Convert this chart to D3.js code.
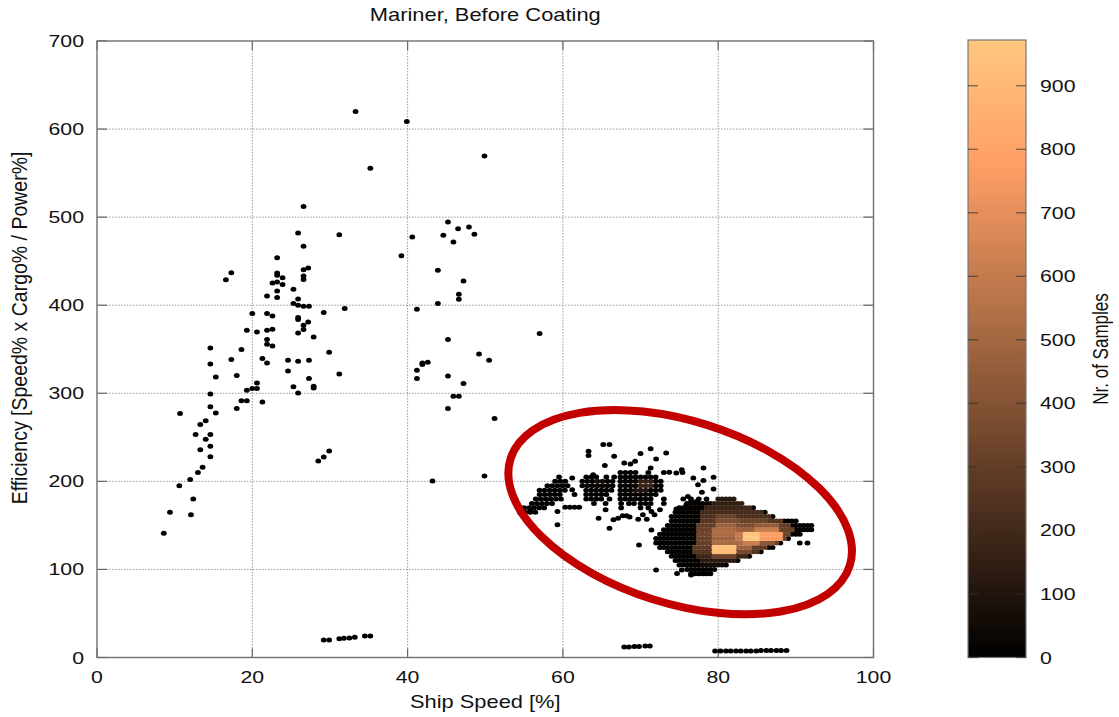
<!DOCTYPE html>
<html>
<head>
<meta charset="utf-8">
<script src="https://cdn.jsdelivr.net/npm/d3@7"></script>
<style>
  body { margin: 0; background: #fff; }
  text { font-family: "Liberation Sans", Arial, sans-serif; fill: #111; }
</style>
</head>
<body>
<svg id="chart" width="1119" height="717"></svg>
<script>
// ---- axis ticks ----
const xTicks = [0, 20, 40, 60, 80, 100];
const yTicks = [0, 100, 200, 300, 400, 500, 600, 700];
const colorTicks = [0, 100, 200, 300, 400, 500, 600, 700, 800, 900];
const maxSamples = 972;

const titleText = "Mariner, Before Coating";
const xLabel = "Ship Speed [%]";
const yLabel = "Efficiency [Speed% x Cargo% / Power%]";
const colorLabel = "Nr. of Samples";

// ---- isolated samples: [speed %, efficiency] (one sample each) ----
const singles = [
  [33.3, 620], [35.2, 555.4], [39.9, 608.7], [49.9, 569.3],
  [26.6, 512.2], [25.9, 482], [31.2, 480.1], [26.6, 466.9], [23.2, 454],
  [26.6, 440.4], [27.2, 442.2], [23.2, 436.6], [23.2, 434], [23.9, 431.3], [16.6, 429], [17.3, 437],
  [26.6, 433.2], [26.6, 429.1], [22.6, 425.3], [23.9, 423.4], [23.2, 426.4], [23.2, 416.2], [25.3, 418.1],
  [21.9, 410.5], [23.2, 408.7], [25.9, 407.1], [25.3, 401.9], [25.9, 400], [26.6, 398.8], [27.3, 398.8],
  [29.2, 391.6], [31.9, 396.2], [20.0, 390.5], [21.9, 390.5], [22.6, 387.8], [25.9, 386], [25.9, 383.7],
  [26.6, 377.3], [26.6, 372.3], [27.2, 381], [25.9, 368.5], [27.9, 364], [19.3, 371.6], [20.6, 369.6],
  [21.9, 371.6], [22.6, 372.7], [21.9, 361], [21.9, 355.7], [22.6, 353.7], [18.6, 349.7], [14.6, 351.5],
  [29.9, 346.6], [17.3, 338.3], [21.3, 339.5], [21.9, 334.5], [24.6, 337.5], [25.9, 336.4], [27.3, 337.5],
  [14.6, 333.3], [24.6, 325.4], [31.2, 322], [15.3, 318.6], [18.0, 320.2], [27.3, 316.8], [25.3, 307.3],
  [27.9, 308], [27.9, 306.1], [25.9, 300.4], [20.6, 311.8], [20.6, 305.4], [20.0, 305.4], [19.3, 303.5],
  [18.6, 291.4], [19.3, 291.4], [21.3, 290.2], [18.0, 282.7], [14.6, 299.3], [14.6, 284.6], [15.3, 277.7],
  [10.7, 277], [14.0, 268.7], [13.3, 264.6], [12.7, 253.2], [14.6, 253.2], [14.0, 247.9],
  [14.6, 240], [13.3, 236], [14.6, 228], [13.6, 216], [13.0, 210], [12.0, 202], [10.6, 195],
  [12.4, 180], [12.1, 162], [9.4, 165], [8.6, 141],
  [28.5, 223], [29.2, 227.6], [29.9, 234.4],
  [45.2, 494.4], [46.5, 486.9], [47.9, 488.8], [44.6, 479.4], [48.6, 480.5], [40.6, 477.4], [45.9, 471.7],
  [39.2, 456.3], [43.9, 439.6], [47.2, 427.5], [46.6, 412.4], [46.6, 406.7], [43.9, 401.9], [41.2, 395.4],
  [57.0, 367.8], [45.2, 361], [49.2, 344.7], [50.5, 337.5], [41.2, 326.2], [41.9, 334.5], [41.9, 332.6],
  [42.6, 335.3], [41.2, 316.8], [45.2, 319.7], [47.2, 311.1], [45.9, 296.7], [46.6, 296.7], [45.2, 282.7],
  [51.2, 271.4], [43.2, 200.3], [49.9, 206],
  // near-zero efficiency strings
  [29.2, 19.9], [29.9, 19.9], [31.2, 21.3], [31.8, 21.8], [32.5, 22.1], [33.2, 22.9], [34.5, 24.4], [35.2, 24.4],
  [67.9, 12], [68.5, 12], [69.2, 12.5], [69.8, 12.5], [70.6, 13], [71.2, 13],
  [79.6, 7.5], [80.3, 7.5], [81.0, 7.5], [81.6, 7.5], [82.3, 7.5], [82.9, 7.5], [83.6, 7.5], [84.2, 7.5],
  [84.9, 7.5], [85.5, 8], [86.2, 8], [86.8, 8], [87.5, 8], [88.1, 8], [88.8, 8],
  // scattered around the operating cluster
  [65.2, 241.8], [66.0, 241.8], [63.3, 234.2], [63.3, 229.3], [66.6, 228.5], [65.4, 217.9], [70.0, 231.5],
  [71.3, 236.9], [72.0, 225.5], [73.3, 232.3], [67.9, 220.9], [68.7, 219.8], [69.3, 222.8], [71.3, 215.2],
  [73.0, 210], [73.7, 210.3], [74.6, 209.5], [75.4, 210], [75.3, 213.3], [78.1, 215.2], [76.8, 203.8],
  [78.1, 201.1], [79.4, 204.6], [77.4, 196.2], [79.4, 191.3], [77.9, 187.5],
  [54.5, 164.7], [55.8, 167.7], [59.3, 165.8], [59.3, 150.6], [60.3, 170.7], [60.9, 170.7], [61.5, 170.7],
  [62.1, 170.7], [61.2, 203.8], [61.2, 190.5], [63.9, 207.6],
  [64.6, 158.2], [65.5, 167.7], [66.0, 146.8], [66.5, 156.3], [67.1, 158.2], [67.7, 160.9], [68.2, 160.9],
  [68.6, 159.4], [69.7, 157.1], [70.3, 162.0], [70.8, 157.1], [71.4, 165.8], [71.8, 162.0], [72.5, 167.7],
  [71.4, 144.9], [69.8, 127.8], [72.0, 99.3],
  [74.6, 168.5], [75.9, 173.4], [76.5, 177.2], [77.2, 177.2], [76.1, 182.9],
  [74.7, 95.5], [75.3, 99.3], [76.5, 93.6], [78.1, 95.5]
];

// ---- binned samples, upper part of the cluster (0.65 % speed bins) ----
// [efficiency, speed from, speed to, samples]
const upperBin = 0.65;
const upperRuns = [
  [210, 67.4, 69.4, 3], [210, 71, 71, 2],
  [205, 59.5, 59.5, 2], [205, 63, 64.3, 3], [205, 65.6, 65.6, 2], [205, 66.6, 66.6, 2], [205, 67.4, 72, 5],
  [200, 59, 60.3, 5], [200, 62.5, 66.4, 8], [200, 67.4, 72.6, 10], [200, 64.45, 65.1, 60], [200, 70, 71.3, 150],
  [195, 58, 60.6, 6], [195, 62.5, 66.4, 10], [195, 67.4, 72.6, 12], [195, 70, 71.3, 170],
  [190, 57, 60.3, 5], [190, 63, 66.3, 8], [190, 67.4, 72.6, 10], [190, 69.35, 70.65, 100],
  [185, 57, 59.6, 4], [185, 61.5, 61.5, 2], [185, 63, 65.6, 5], [185, 67.4, 72, 8],
  [180, 56.5, 59.8, 4], [180, 63, 65, 4], [180, 66, 66, 2], [180, 67.4, 71.3, 6], [180, 73, 73, 2],
  [175, 56, 58.6, 3], [175, 64, 64, 2], [175, 65.5, 65.5, 2], [175, 67.5, 67.5, 2], [175, 68.5, 69.2, 3],
  [175, 70, 71.3, 4], [175, 73, 73, 2],
  [170, 55, 57.6, 3], [170, 67.5, 67.5, 2], [170, 70, 70, 2], [170, 71, 71, 2],
  [165, 54.5, 56.5, 2]
];

// ---- binned samples, main operating blob (0.5 % speed bins) ----
const blobBin = 0.5;
const blobRuns = [
  [180, 75.5, 75.5, 3], [180, 76.5, 76.5, 3], [180, 77.5, 77.5, 3], [180, 78.5, 78.5, 3], [180, 80, 82, 120],
  [175, 76, 83, 10], [170, 75, 84.5, 10], [165, 74.5, 86, 10], [160, 74, 87, 10], [155, 74, 90, 10],
  [150, 73.5, 92, 10], [145, 73, 92, 10], [140, 72.5, 90.5, 10], [135, 72, 89, 10],
  [130, 72, 88, 10], [130, 90.5, 90.5, 2], [130, 91.5, 91.5, 2],
  [125, 72.5, 87, 10], [120, 73.5, 85.5, 10], [115, 74, 84, 10], [110, 74.5, 82.5, 10],
  [105, 75, 81, 10], [100, 76, 79.5, 8], [95, 76.5, 79, 4]
];

// ---- sample counts inside the blob (override the base counts above) ----
const heatRuns = [
  [175, 79.5, 83, 150],
  [170, 78.5, 84, 190],
  [165, 78, 85.5, 220],
  [160, 78, 86.5, 240], [160, 80, 82, 320],
  [155, 78, 88, 270], [155, 80, 82.5, 380], [155, 83, 86, 330],
  [150, 77.5, 89, 300], [150, 80, 82, 480], [150, 82.5, 84.5, 380], [150, 85, 87.5, 450],
  [145, 77.5, 89.5, 320], [145, 79.5, 82, 520], [145, 82.5, 84.5, 470], [145, 85, 87.5, 600],
  [140, 77.5, 89, 340], [140, 79.5, 82, 520], [140, 82.5, 83, 600], [140, 83.5, 85, 950], [140, 85.5, 88, 770],
  [135, 77.5, 88.5, 320], [135, 79.5, 82, 480], [135, 82.5, 83, 580], [135, 83.5, 85, 970], [135, 85.5, 88, 760],
  [130, 77.5, 87.5, 310], [130, 79.5, 82, 520], [130, 82.5, 83, 520], [130, 83.5, 85, 620], [130, 85.5, 87, 420],
  [125, 77, 86, 290], [125, 79.5, 82, 940], [125, 82.5, 84, 480],
  [120, 77, 85, 260], [120, 79.5, 82, 920], [120, 82.5, 84, 360],
  [115, 77.5, 83.5, 190], [115, 79.5, 82, 320],
  [110, 78, 82, 130],
  [105, 78, 80.5, 60]
];

// highlighted operating region (speed %, efficiency, half-axes in axis units, tilt in degrees)
const highlight = { speed: 75.1, efficiency: 165, halfSpeed: 22.9, halfEff: 103.6, tilt: 17.5 };

// ---------------------------------------------------------------
const svg = d3.select("#chart");
const plot = { left: 97, right: 873.5, top: 41, bottom: 657.5 };
const bar = { left: 968, right: 1026, top: 40, bottom: 657.5 };
const stretch = 1.25;   // glyphs are rendered wide

const x = d3.scaleLinear().domain([0, 100]).range([plot.left, plot.right]);
const y = d3.scaleLinear().domain([0, 700]).range([plot.bottom, plot.top]);
const cy = d3.scaleLinear().domain([0, maxSamples]).range([bar.bottom, bar.top]);

// copper palette
function copper(n) {
  const t = Math.max(0, Math.min(1, n / maxSamples));
  const r = Math.min(1, 1.25 * t), g = 0.7812 * t, b = 0.4975 * t;
  return d3.rgb(r * 255, g * 255, b * 255).formatHex();
}

// collect binned samples; later runs replace earlier counts in the same bin
const bins = new Map();
function addRuns(runs, width) {
  runs.forEach(([eff, s0, s1, n]) => {
    for (let s = s0; s <= s1 + 1e-6; s += width) {
      const key = s.toFixed(2) + "|" + eff;
      bins.set(key, { speed: s, eff, n });
    }
  });
}
addRuns(upperRuns, upperBin);
addRuns(blobRuns, blobBin);
addRuns(heatRuns, blobBin);

const samples = singles.map(([s, e]) => ({ speed: s, eff: e, n: 1 }))
  .concat(Array.from(bins.values()))
  .sort((a, b) => a.n - b.n);

// text helper with widened glyphs
function wideText(g, px, py, str, anchor, size, sx, rotate) {
  return g.append("text")
    .attr("transform", `translate(${px},${py}) scale(${sx},1)` + (rotate ? ` rotate(${rotate})` : ""))
    .attr("text-anchor", anchor)
    .style("font-size", size + "px")
    .text(str);
}

// ---- grid ----
const grid = svg.append("g");
grid.selectAll("line.gx").data(xTicks.slice(1, -1)).join("line")
  .attr("x1", d => x(d)).attr("x2", d => x(d))
  .attr("y1", plot.top).attr("y2", plot.bottom)
  .attr("stroke", "#9a9a9a").attr("stroke-width", 1).attr("stroke-dasharray", "1.5,1.5");
grid.selectAll("line.gy").data(yTicks.slice(1, -1)).join("line")
  .attr("x1", plot.left).attr("x2", plot.right)
  .attr("y1", d => y(d)).attr("y2", d => y(d))
  .attr("stroke", "#9a9a9a").attr("stroke-width", 1).attr("stroke-dasharray", "1.5,1.5");

// ---- ticks (inward on all four sides) ----
const tk = svg.append("g").attr("stroke", "#666").attr("stroke-width", 1.2);
xTicks.forEach(v => {
  tk.append("line").attr("x1", x(v)).attr("x2", x(v)).attr("y1", plot.bottom).attr("y2", plot.bottom - 9);
  tk.append("line").attr("x1", x(v)).attr("x2", x(v)).attr("y1", plot.top).attr("y2", plot.top + 9);
});
yTicks.forEach(v => {
  tk.append("line").attr("x1", plot.left).attr("x2", plot.left + 10).attr("y1", y(v)).attr("y2", y(v));
  tk.append("line").attr("x1", plot.right).attr("x2", plot.right - 10).attr("y1", y(v)).attr("y2", y(v));
});

// ---- samples ----
svg.append("g").selectAll("ellipse").data(samples).join("ellipse")
  .attr("cx", d => x(d.speed))
  .attr("cy", d => y(d.eff))
  .attr("rx", 2.9).attr("ry", 2.5)
  .attr("fill", d => copper(d.n));

// ---- frame ----
svg.append("rect")
  .attr("x", plot.left).attr("y", plot.top)
  .attr("width", plot.right - plot.left).attr("height", plot.bottom - plot.top)
  .attr("fill", "none").attr("stroke", "#707070").attr("stroke-width", 1.4);

// ---- highlight ellipse ----
{
  const cxp = x(highlight.speed), cyp = y(highlight.efficiency);
  const rx = x(highlight.speed + highlight.halfSpeed) - cxp;
  const ry = cyp - y(highlight.efficiency + highlight.halfEff);
  svg.append("ellipse")
    .attr("cx", cxp).attr("cy", cyp).attr("rx", rx).attr("ry", ry)
    .attr("transform", `rotate(${highlight.tilt},${cxp},${cyp})`)
    .attr("fill", "none").attr("stroke", "#c20000").attr("stroke-width", 8);
}

// ---- tick labels ----
const labels = svg.append("g");
xTicks.forEach(v => wideText(labels, x(v), 683, String(v), "middle", 17, stretch));
yTicks.forEach(v => wideText(labels, 84, y(v) + 6, String(v), "end", 17, stretch));

// ---- titles ----
wideText(labels, (plot.left + plot.right) / 2, 21, titleText, "middle", 17.5, stretch);
wideText(labels, (plot.left + plot.right) / 2, 708, xLabel, "middle", 17.5, stretch);
wideText(labels, 27, 328, yLabel, "middle", 19.5, 1.1, -90);

// ---- colour bar ----
const defs = svg.append("defs");
const grad = defs.append("linearGradient").attr("id", "copperGrad")
  .attr("x1", 0).attr("y1", 1).attr("x2", 0).attr("y2", 0);
d3.range(0, 1.0001, 0.05).forEach(t => {
  grad.append("stop").attr("offset", t).attr("stop-color", copper(t * maxSamples));
});
svg.append("rect")
  .attr("x", bar.left).attr("y", bar.top)
  .attr("width", bar.right - bar.left).attr("height", bar.bottom - bar.top)
  .attr("fill", "url(#copperGrad)").attr("stroke", "#777").attr("stroke-width", 1.2);
const ctk = svg.append("g").attr("stroke", "#333").attr("stroke-width", 1.2).attr("opacity", 0.7);
colorTicks.forEach(v => {
  ctk.append("line").attr("x1", bar.left).attr("x2", bar.left + 10).attr("y1", cy(v)).attr("y2", cy(v));
  ctk.append("line").attr("x1", bar.right).attr("x2", bar.right - 10).attr("y1", cy(v)).attr("y2", cy(v));
});
colorTicks.forEach(v => wideText(labels, 1040, cy(v) + 6, String(v), "start", 17, stretch));
wideText(labels, 1108, 349, colorLabel, "middle", 17, stretch, -90);
</script>
</body>
</html>
